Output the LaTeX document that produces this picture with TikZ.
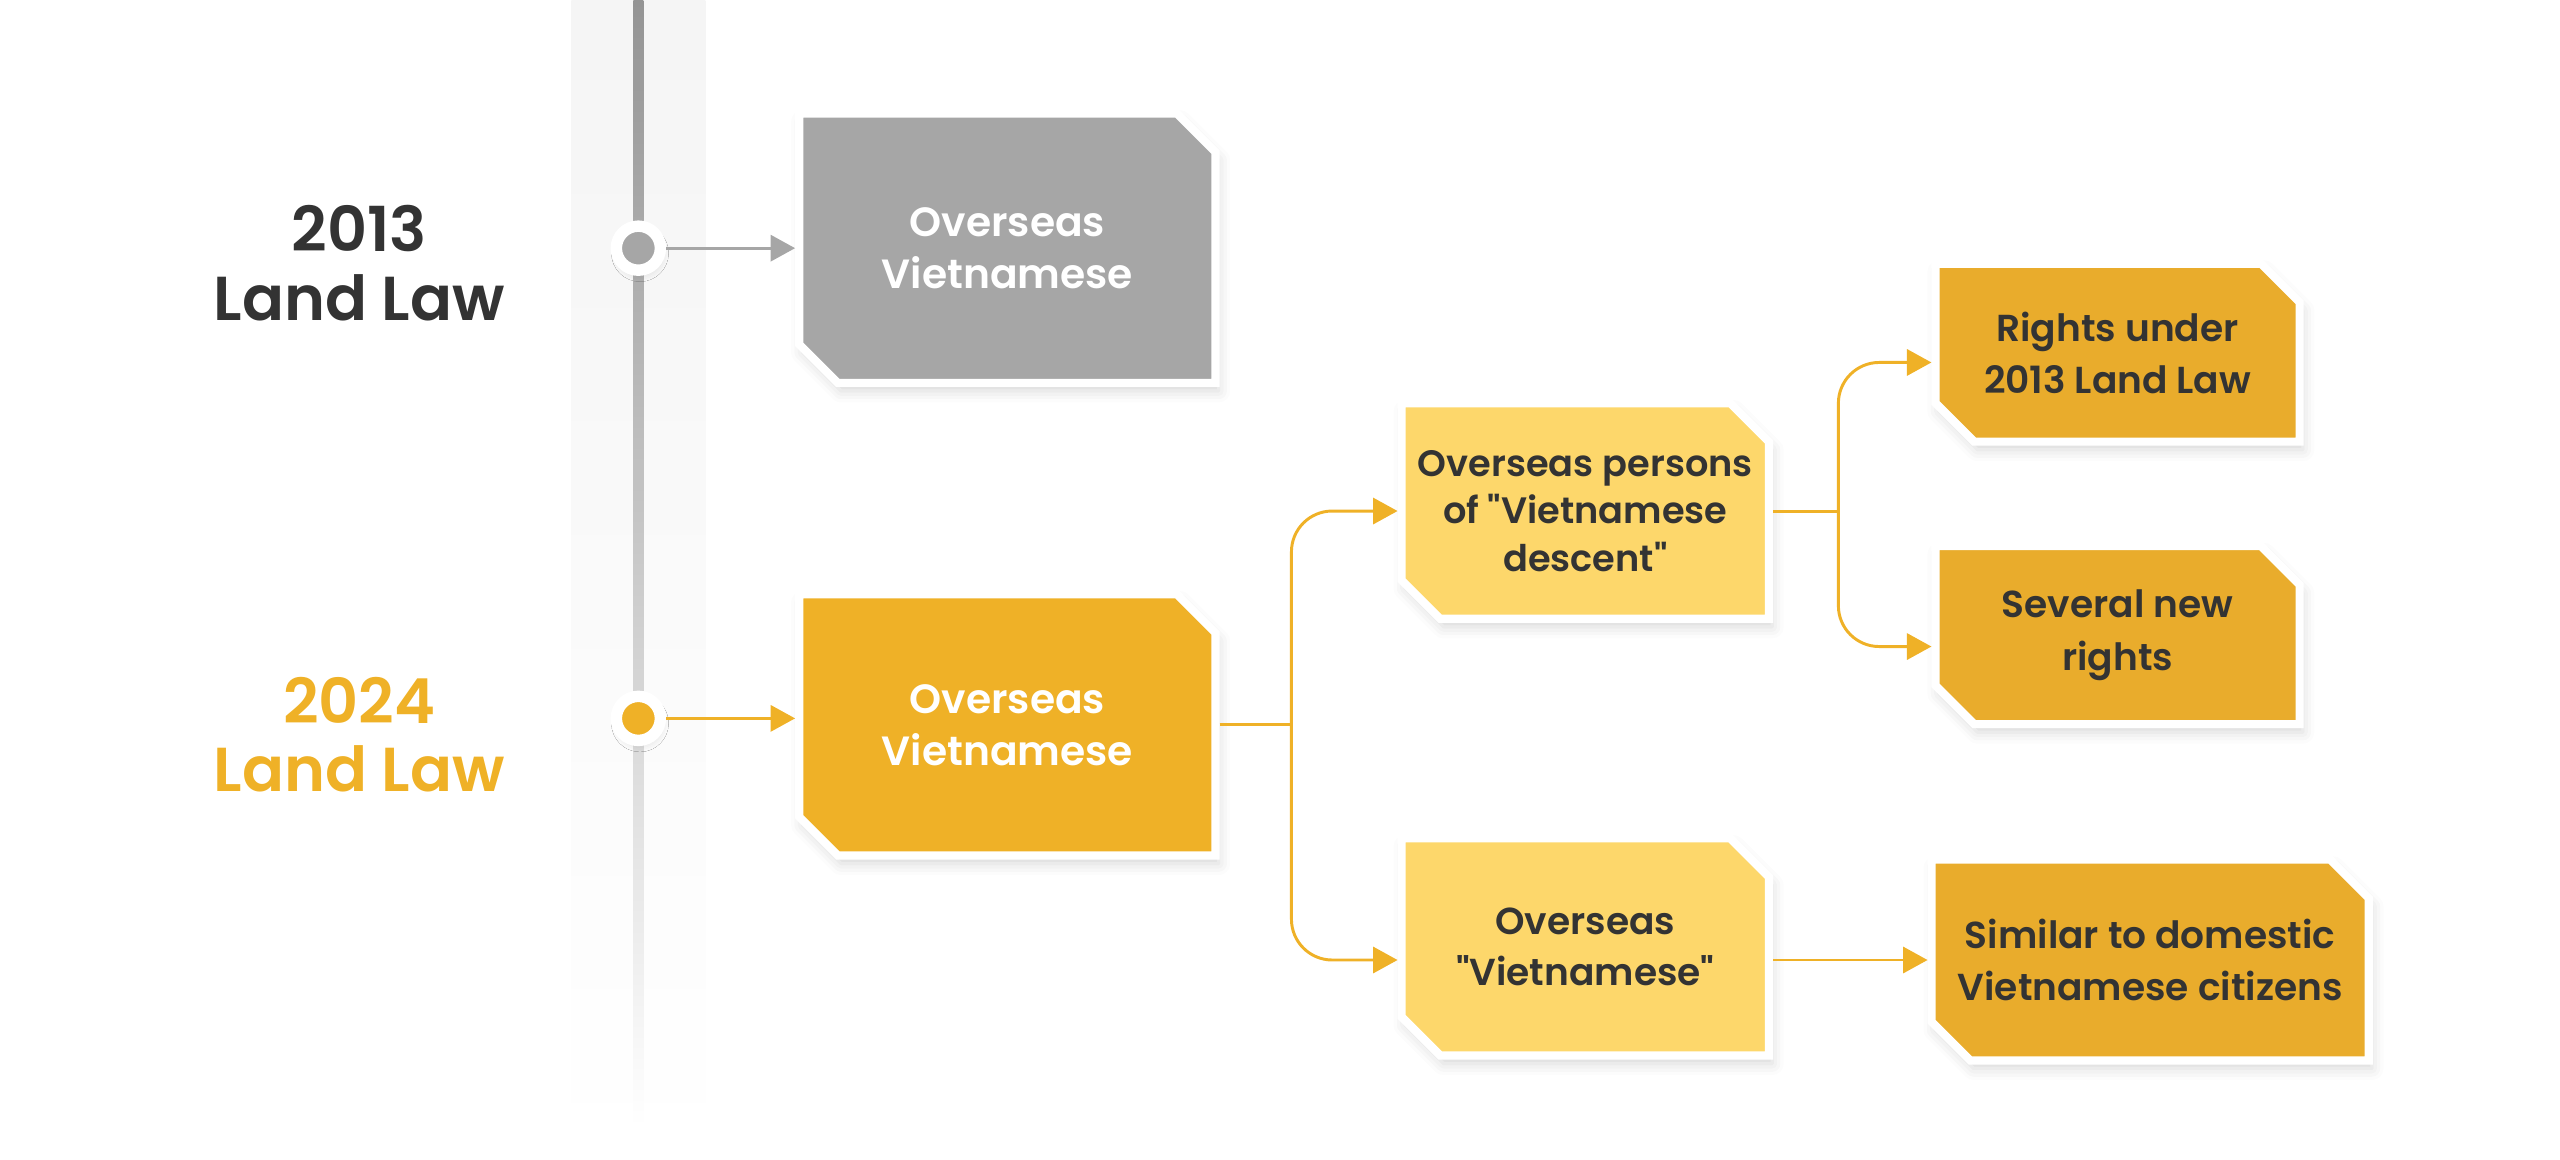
\documentclass[tikz,border=0pt]{standalone}
\usepackage{fontspec}
\setmainfont{Poppins}[BoldFont={Poppins SemiBold}]
\usetikzlibrary{positioning,shapes.misc,arrows.meta,shadows.blur,calc}
\definecolor{LawGray}{HTML}{A6A6A6}
\definecolor{LawOrange}{HTML}{EFB127}
\definecolor{LawLight}{HTML}{FDD76B}
\definecolor{LawDeep}{HTML}{E9AC2C}
\definecolor{LawText}{HTML}{333333}
\newcommand{\qt}{\textquotedbl}
\tikzset{>={Triangle[length=15pt,width=16pt]}}
\tikzset{lawshadow/.style={blur shadow={shadow xshift=2pt,shadow yshift=-5pt,shadow blur radius=7pt,shadow opacity=16}}}
\tikzset{lawbox/.style={chamfered rectangle,chamfered rectangle corners={north east,south west},
    chamfered rectangle angle=45,chamfered rectangle xsep=20pt,
    draw=white,line width=5pt,align=center,inner sep=0pt,lawshadow,
    font=\bfseries\fontsize{23}{32}\selectfont}}
\tikzset{lawdot/.style={circle,fill=#1,draw=white,line width=7pt,minimum size=27pt,inner sep=0pt,
    blur shadow={shadow xshift=1pt,shadow yshift=-3pt,shadow blur radius=4pt,shadow opacity=12}}}
\tikzset{yearlabel/.style={align=center,font=\bfseries\fontsize{38}{42}\selectfont}}
\tikzset{lawline/.style={line width=1.8pt,draw=LawOrange}}

\begin{document}
\begin{tikzpicture}[x=1pt,y=-1pt]
    \useasboundingbox (0,0) rectangle (1568,710);
    % timeline
    \shade[top color=black!4,bottom color=white] (350,0) rectangle (432,710);
    \shade[top color=black!42,middle color=black!22,bottom color=white] (388,0) rectangle (394,690);
    \node[yearlabel,text=LawText]   (y13) at (220,161) {2013\\Land Law};
    \node[yearlabel,text=LawOrange] (y24) at (220,450) {2024\\Land Law};
    \node[lawdot=LawGray]   (d13) at (391,152) {};
    \node[lawdot=LawOrange] (d24) at (391,440) {};
    % boxes
    \node[lawbox,fill=LawGray,text=white,minimum width=255pt,minimum height=165pt,
        font=\bfseries\fontsize{25}{32}\selectfont] (ov13) at (617,152) {Overseas\\Vietnamese};
    \node[lawbox,fill=LawOrange,text=white,minimum width=255pt,minimum height=160pt,
        font=\bfseries\fontsize{25}{32}\selectfont] (ov24) at (617,444) {Overseas\\Vietnamese};
    \node[lawbox,fill=LawLight,text=LawText,minimum width=225pt,minimum height=132pt,inner xsep=-12pt,
        font=\bfseries\fontsize{22.5}{29}\selectfont] (desc) at (971,313) {Overseas persons\\of \qt Vietnamese\\descent\qt};
    \node[lawbox,fill=LawLight,text=LawText,minimum width=225pt,minimum height=133pt,
        font=\bfseries\fontsize{23}{31}\selectfont] (viet) at (971,580) {Overseas\\\qt Vietnamese\qt};
    \node[lawbox,fill=LawDeep,text=LawText,minimum width=223pt,minimum height=109pt] (old) at (1297,216) {Rights under\\2013 Land Law};
    \node[lawbox,fill=LawDeep,text=LawText,minimum width=223pt,minimum height=109pt] (new) at (1297,389) {Several new\\rights};
    \node[lawbox,fill=LawDeep,text=LawText,minimum width=264pt,minimum height=123pt,inner xsep=-4pt] (same) at (1317,588) {Similar to domestic\\Vietnamese citizens};
    % connectors
    \draw[line width=1.8pt,draw=LawGray,->,color=LawGray] (d13.east) -- (d13.east -| ov13.west);
    \draw[lawline,->,color=LawOrange] (d24.east) -- (d24.east -| ov24.west);
    \draw[lawline] (ov24.east) -- ++(44,0) coordinate (j24);
    \draw[lawline,->,color=LawOrange,rounded corners=25pt] (j24) |- (desc.west);
    \draw[lawline,->,color=LawOrange,rounded corners=25pt] (j24) |- (viet.west |- same.west);
    \draw[lawline] (desc.east) -- ++(40,0) coordinate (jdesc);
    \draw[lawline,->,color=LawOrange,rounded corners=25pt] (jdesc) |- ([yshift=-6pt]old.west);
    \draw[lawline,->,color=LawOrange,rounded corners=25pt] (jdesc) |- ([yshift=-7pt]new.west);
    \draw[lawline,->,color=LawOrange] (viet.east |- same.west) -- (same.west);
\end{tikzpicture}
\end{document}
